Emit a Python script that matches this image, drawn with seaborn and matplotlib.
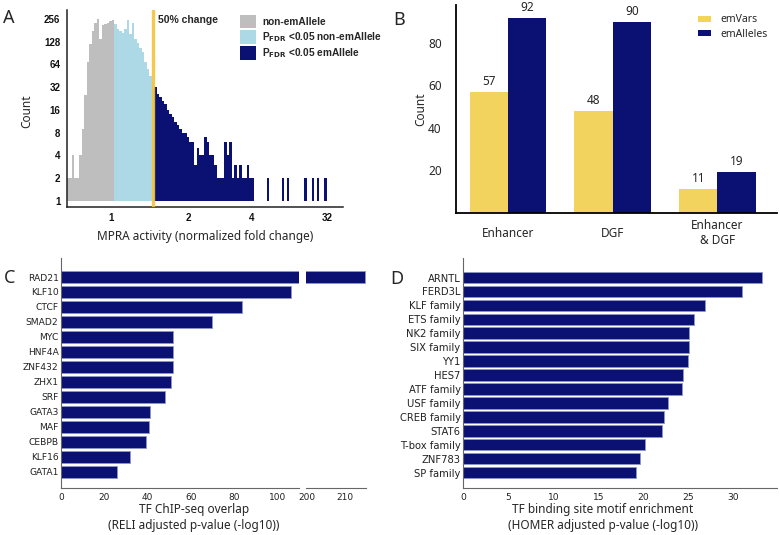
import numpy as np
import pandas as pd
import matplotlib
matplotlib.use("Agg")
import matplotlib.pyplot as plt
import seaborn as sns
from matplotlib.ticker import NullLocator

# --- DATA ---
# Panel A: histogram counts, one value per bin (equal-width bins on the display axis)
HIST_NON_EM = [2, 2, 4, 2, 2, 4, 9, 25, 70, 120, 180, 225, 260, 140, 215, 220, 225, 240, 250]
HIST_FDR_NON_EM = [220, 190, 175, 165, 190, 250, 160, 230, 140, 125, 105, 95, 70, 55, 45, 38]
HIST_FDR_EM = [32, 26, 24, 21, 19, 16, 14, 13, 11, 10, 9, 8, 8, 7,
               6, 6, 3, 5, 4, 4, 7, 6, 4, 4, 3, 2, 2, 2, 6, 4, 6, 2, 3, 2, 3, 2, 2, 3, 2, 2,
               0, 0, 0, 0, 0, 2, 0, 0, 0, 0, 0, 2, 0, 2, 0, 0, 0, 0, 0, 0, 2, 0, 0, 2, 0, 2,
               0, 0, 2]
HIST_LABELS = ["non-emAllele",
               r"P$_{\mathbf{FDR}}$ <0.05 non-emAllele",
               r"P$_{\mathbf{FDR}}$ <0.05 emAllele"]
FOLD_TICK_LABELS = ["1", "2", "4", "32"]
COUNT_TICKS = [1, 2, 4, 8, 16, 32, 64, 128, 256]

# Panel B
OVERLAP_CATS = ["Enhancer", "DGF", "Enhancer\n& DGF"]
EMVARS = [57, 48, 11]
EMALLELES = [92, 90, 19]
SET_NAMES = ["emVars", "emAlleles"]

# Panel C
RELI_TFS = ["RAD21", "KLF10", "CTCF", "SMAD2", "MYC", "HNF4A", "ZNF432", "ZHX1",
            "SRF", "GATA3", "MAF", "CEBPB", "KLF16", "GATA1"]
RELI_P = [215.3, 106.3, 83.7, 69.8, 51.7, 51.5, 51.5, 50.6, 47.8, 41.2, 40.7, 39.3, 31.6, 25.9]

# Panel D
HOMER_MOTIFS = ["ARNTL", "FERD3L", "KLF family", "ETS family", "NK2 family", "SIX family",
                "YY1", "HES7", "ATF family", "USF family", "CREB family", "STAT6",
                "T-box family", "ZNF783", "SP family"]
HOMER_P = [33.2, 30.9, 26.8, 25.6, 25.1, 25.1, 25.0, 24.4, 24.3, 22.7, 22.3, 22.1, 20.2, 19.6, 19.2]

# --- STYLE ---
NAVY = "#0A1172"
GOLD = "#F2D35E"
LINE_GOLD = "#F6C338"
GREY = "#BEBEBE"
LIGHT = "#ADD8E6"
BAR_EDGE = "#8E96C8"
LABEL_FONT = "Noto Sans"
BOLD_FONT = "Liberation Sans"

sns.set_theme(style="white")
plt.rcParams["font.family"] = ["DejaVu Sans"]
plt.rcParams["mathtext.fontset"] = "dejavusans"

W, H = 780, 535
fig = plt.figure(figsize=(W / 100, H / 100), dpi=100)


def px_axes(left, top, right, bottom):
    """Axes rectangle from pixel edges."""
    return fig.add_axes([left / W, 1 - bottom / H, (right - left) / W, (bottom - top) / H])


# --- Panel A: MPRA activity histogram ---
ax_a = px_axes(66.7, 10, 343, 207)
start = 0
for vals, col, lab in zip([HIST_NON_EM, HIST_FDR_NON_EM, HIST_FDR_EM], [GREY, LIGHT, NAVY], HIST_LABELS):
    v = np.asarray(vals, dtype=float)
    x = start + np.arange(len(v))
    ax_a.bar(x, np.where(v > 1, v - 1, 0), bottom=1, width=1.0, align="edge",
             color=col, linewidth=0, label=lab)
    start += len(v)

cut = len(HIST_NON_EM) + len(HIST_FDR_NON_EM)
ax_a.axvline(cut - 0.4, color=LINE_GOLD, lw=2.4, alpha=0.9, zorder=3)
ax_a.set_yscale("log", base=2)
ax_a.set_ylim(0.83, 337)
ax_a.set_xlim(0, 110.4)
ax_a.set_yticks(COUNT_TICKS, [str(t) for t in COUNT_TICKS])
ax_a.yaxis.set_minor_locator(NullLocator())
ax_a.set_xticks([17.6, 48.8, 73.9, 103.9], FOLD_TICK_LABELS)
for lbl in ax_a.get_xticklabels() + ax_a.get_yticklabels():
    lbl.set_fontfamily(BOLD_FONT)
    lbl.set_fontweight("bold")
    lbl.set_fontsize(7)
ax_a.tick_params(axis="both", length=2.5, width=0.8, pad=2, colors="#111111")
for s in ["top", "right"]:
    ax_a.spines[s].set_visible(False)
for s in ["left", "bottom"]:
    ax_a.spines[s].set_color("#222222")
    ax_a.spines[s].set_linewidth(1.1)
ax_a.set_xlabel("MPRA activity (normalized fold change)", fontfamily=LABEL_FONT, fontsize=8.5)
ax_a.xaxis.set_label_coords(0.5, -0.117)
ax_a.set_ylabel("Count", fontfamily=LABEL_FONT, fontsize=8.5)
ax_a.yaxis.set_label_coords(-0.122, 0.488)
ax_a.text(cut + 1.3, 0.95, "50% change", transform=ax_a.get_xaxis_transform(),
          fontfamily=BOLD_FONT, fontweight="bold", fontsize=7.5, va="center", ha="left")
ax_a.legend(loc="upper left", bbox_to_anchor=(0.627, 0.975), frameon=False,
            borderaxespad=0, borderpad=0, handlelength=1.6, handleheight=1.65,
            labelspacing=0.2, handletextpad=0.6,
            prop=dict(family=BOLD_FONT, weight="bold", size=7.3))

# --- Panel B: emVars / emAlleles counts ---
ax_b = px_axes(455.7, 5, 777, 212.5)
df_b = pd.DataFrame({
    "category": OVERLAP_CATS * 2,
    "count": EMVARS + EMALLELES,
    "set": [SET_NAMES[0]] * len(EMVARS) + [SET_NAMES[1]] * len(EMALLELES),
})
sns.barplot(data=df_b, x="category", y="count", hue="set", palette=[GOLD, NAVY],
            width=0.73, saturation=1, gap=0, linewidth=0, ax=ax_b)
for cont in ax_b.containers:
    ax_b.bar_label(cont, padding=3, fontsize=8.5, fontfamily=LABEL_FONT)
ax_b.set_ylim(0, 98)
ax_b.set_xlim(-0.5, 2.57)
ax_b.set_yticks([20, 40, 60, 80])
ax_b.tick_params(axis="y", length=0, pad=10, labelsize=8.5)
ax_b.tick_params(axis="x", length=0, pad=15, labelsize=8.5)
for lbl in ax_b.get_xticklabels() + ax_b.get_yticklabels():
    lbl.set_fontfamily(LABEL_FONT)
for lbl in ax_b.get_xticklabels():
    lbl.set_verticalalignment("center")
    lbl.set_multialignment("center")
ax_b.set_xlabel("")
ax_b.set_ylabel("Count", fontfamily=LABEL_FONT, fontsize=8.5)
ax_b.yaxis.set_label_coords(-0.09, 0.5)
for s in ["top", "right"]:
    ax_b.spines[s].set_visible(False)
for s in ["left", "bottom"]:
    ax_b.spines[s].set_color("black")
    ax_b.spines[s].set_linewidth(1.3)
ax_b.legend(loc="upper right", bbox_to_anchor=(1.0, 1.0), frameon=False, title=None,
            handlelength=1.25, handleheight=0.55, labelspacing=0.35, handletextpad=0.9,
            prop=dict(family=LABEL_FONT, size=7.5))

# --- Panel C: RELI TF ChIP-seq overlap (broken x axis) ---
ax_c1 = px_axes(61.3, 258, 299.3, 487.7)
ax_c2 = px_axes(305.7, 258, 365.7, 487.7)
for ax in (ax_c1, ax_c2):
    sns.barplot(x=RELI_P, y=RELI_TFS, orient="h", color=NAVY, saturation=1, width=0.8,
                edgecolor=BAR_EDGE, linewidth=0.6, ax=ax)
    ax.set_ylim(14.07, -1.27)
    ax.set_xlabel("")
    ax.set_ylabel("")
    ax.tick_params(axis="x", length=2.5, width=0.6, pad=1.5, labelsize=6.5,
                   colors="#555555", labelcolor="#222222")
    for s in ["top", "right"]:
        ax.spines[s].set_visible(False)
    for s in ["left", "bottom"]:
        ax.spines[s].set_color("#666666")
        ax.spines[s].set_linewidth(0.8)
ax_c1.set_xlim(0, 110.2)
ax_c1.set_xticks([0, 20, 40, 60, 80, 100])
ax_c1.tick_params(axis="y", length=0, pad=2, labelsize=6.6, labelcolor="#222222")
ax_c2.set_xlim(199.7, 215.6)
ax_c2.set_xticks([200, 210])
ax_c2.set_yticks([])
ax_c2.spines["left"].set_visible(False)
fig.text(194 / W, 1 - 517 / H, "TF ChIP-seq overlap\n(RELI adjusted p-value (-log10))",
         ha="center", va="center", fontfamily=LABEL_FONT, fontsize=8.5, linespacing=1.3)

# --- Panel D: HOMER motif enrichment ---
ax_d = px_axes(463.3, 258, 776.7, 487.7)
sns.barplot(x=HOMER_P, y=HOMER_MOTIFS, orient="h", color=NAVY, saturation=1, width=0.83,
            edgecolor=BAR_EDGE, linewidth=0.6, ax=ax_d)
ax_d.set_ylim(15.09, -1.4)
ax_d.set_xlim(0, 34.8)
ax_d.set_xticks([0, 5, 10, 15, 20, 25, 30])
ax_d.set_xlabel("")
ax_d.set_ylabel("")
ax_d.tick_params(axis="x", length=2.5, width=0.6, pad=1.5, labelsize=6.6,
                 colors="#555555", labelcolor="#222222")
ax_d.tick_params(axis="y", length=0, pad=2, labelsize=7.2, labelcolor="#222222")
for s in ["top", "right"]:
    ax_d.spines[s].set_visible(False)
for s in ["left", "bottom"]:
    ax_d.spines[s].set_color("#666666")
    ax_d.spines[s].set_linewidth(0.8)
fig.text(603 / W, 1 - 517 / H, "TF binding site motif enrichment\n(HOMER adjusted p-value (-log10))",
         ha="center", va="center", fontfamily=LABEL_FONT, fontsize=8.5, linespacing=1.3)

# --- Panel letters ---
for letter, (x, y) in zip("ABCD", [(9, 18), (399, 20), (10, 278), (397, 279)]):
    fig.text(x / W, 1 - y / H, letter, ha="center", va="center",
             fontfamily=LABEL_FONT, fontsize=13)

fig.savefig("out.png", dpi=100)
